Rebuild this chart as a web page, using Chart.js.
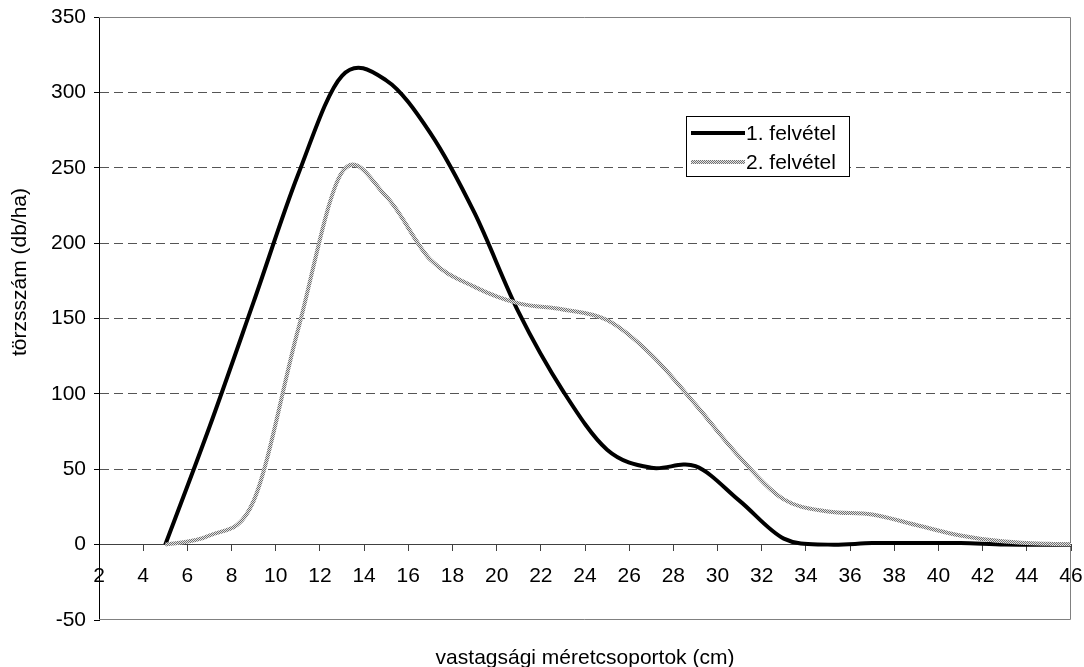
<!DOCTYPE html>
<html lang="hu">
<head>
<meta charset="UTF-8">
<title>Törzsszám-eloszlás</title>
<style>
  html, body { margin: 0; padding: 0; background: #fff; }
</style>
<script src="https://cdn.jsdelivr.net/npm/chart.js"></script>
</head>
<body>
<canvas id="chart" width="1084" height="667"></canvas>
<script>
// diameter class midpoints (cm) and stem counts (db/ha) of the two surveys
const diameters = [5, 7, 9, 11, 13, 15, 17, 19, 21, 23, 25, 27, 29, 31, 33, 35, 37, 39, 41, 43, 45, 47];
const survey1 = [0, 78, 161, 245, 311, 308, 273, 220, 154, 102, 63, 51, 52, 29, 4, 0, 1, 1, 1, 0, 0, 0];
const survey2 = [0, 6, 29, 142, 247, 231, 189, 171, 160, 156, 149, 126, 93, 58, 30, 22, 20, 13, 6, 2, 0.5, 0];
const seriesNames = ['1. felvétel', '2. felvétel'];

const xMin = 2, xMax = 46, xStep = 2;
const yMin = -50, yMax = 350, yStep = 50;

const xTitle = 'vastagsági méretcsoportok (cm)';
const yTitle = 'törzsszám (db/ha)';

const FONT = "'Liberation Sans', Arial, sans-serif";
Chart.defaults.font.family = FONT;
Chart.defaults.font.size = 21;
Chart.defaults.color = '#000';

const ctx = document.getElementById('chart').getContext('2d');

// grey checkered stroke used for the second survey
function checkerPattern() {
  const c = document.createElement('canvas');
  c.width = 2; c.height = 2;
  const g = c.getContext('2d');
  g.fillStyle = '#e4e4e4';
  g.fillRect(0, 0, 2, 2);
  g.fillStyle = '#707070';
  g.fillRect(0, 0, 1, 1);
  g.fillRect(1, 1, 1, 1);
  return ctx.createPattern(c, 'repeat');
}
const greyStroke = checkerPattern();

function toPoints(values) {
  return diameters.map((d, i) => ({ x: d, y: values[i] }));
}

// smooth the lines as a uniform Catmull-Rom spline through the points
const catmullRom = {
  id: 'catmullRom',
  beforeDatasetDraw(chart, args) {
    const meta = args.meta;
    meta.dataset.updateControlPoints(chart.chartArea, meta.iScale.axis);
    const pts = meta.data;
    for (let i = 0; i < pts.length; i++) {
      const prev = pts[Math.max(i - 1, 0)];
      const next = pts[Math.min(i + 1, pts.length - 1)];
      const dx = (next.x - prev.x) / 6;
      const dy = (next.y - prev.y) / 6;
      pts[i].cp1x = pts[i].x - dx;
      pts[i].cp1y = pts[i].y - dy;
      pts[i].cp2x = pts[i].x + dx;
      pts[i].cp2y = pts[i].y + dy;
    }
  }
};

// grey frame on the top, right and bottom of the plot
const frame = {
  id: 'frame',
  beforeDatasetsDraw(chart) {
    const { ctx, chartArea: a } = chart;
    ctx.save();
    ctx.strokeStyle = '#808080';
    ctx.lineWidth = 1;
    ctx.beginPath();
    ctx.moveTo(a.left, a.top + 0.5);
    ctx.lineTo(a.right - 0.5, a.top + 0.5);
    ctx.lineTo(a.right - 0.5, a.bottom - 0.5);
    ctx.lineTo(a.left, a.bottom - 0.5);
    ctx.stroke();
    ctx.restore();
  }
};

// axis titles and the boxed legend inside the plot
const annotations = {
  id: 'annotations',
  afterDraw(chart) {
    const { ctx, chartArea: a } = chart;
    ctx.save();
    ctx.fillStyle = '#000';
    ctx.font = '21px ' + FONT;
    ctx.textAlign = 'center';
    ctx.textBaseline = 'middle';
    ctx.fillText(xTitle, (a.left + a.right) / 2, 658);

    ctx.save();
    ctx.translate(20, 272);
    ctx.rotate(-Math.PI / 2);
    ctx.fillText(yTitle, 0, 0);
    ctx.restore();

    // legend
    const bx = 686.5, by = 116.5, bw = 163, bh = 60;
    ctx.fillStyle = '#fff';
    ctx.fillRect(bx, by, bw, bh);
    ctx.strokeStyle = '#000';
    ctx.lineWidth = 1;
    ctx.strokeRect(bx, by, bw, bh);

    const rows = [133, 162];
    chart.data.datasets.forEach((ds, i) => {
      ctx.beginPath();
      ctx.strokeStyle = ds.borderColor;
      ctx.lineWidth = ds.borderWidth;
      ctx.moveTo(691, rows[i]);
      ctx.lineTo(745, rows[i]);
      ctx.stroke();
      ctx.fillStyle = '#000';
      ctx.textAlign = 'left';
      ctx.fillText(ds.label, 746, rows[i] + 1);
    });
    ctx.restore();
  }
};

new Chart(ctx, {
  type: 'line',
  data: {
    datasets: [
      {
        label: seriesNames[0],
        data: toPoints(survey1),
        borderColor: '#000',
        borderWidth: 4,
        tension: 0.3,
        pointRadius: 0,
        order: 1
      },
      {
        label: seriesNames[1],
        data: toPoints(survey2),
        borderColor: greyStroke,
        borderWidth: 4,
        tension: 0.3,
        pointRadius: 0,
        order: 0
      }
    ]
  },
  options: {
    responsive: false,
    devicePixelRatio: 1,
    animation: false,
    layout: { padding: { top: 17, right: 13, bottom: 47, left: 0 } },
    plugins: {
      legend: { display: false },
      tooltip: { enabled: false }
    },
    scales: {
      x: {
        type: 'linear',
        min: xMin,
        max: xMax,
        position: { y: 0 },
        afterFit(scale) { scale.paddingLeft = 0; scale.paddingRight = 0; },
        ticks: { stepSize: xStep, padding: 13, maxRotation: 0, autoSkip: false },
        grid: { drawOnChartArea: false, drawTicks: true, tickLength: 6, tickColor: '#404040' },
        border: { display: true, color: '#404040', width: 1 }
      },
      y: {
        min: yMin,
        max: yMax,
        afterFit(scale) { scale.width = 99; scale.paddingTop = 0; scale.paddingBottom = 0; },
        ticks: { stepSize: yStep, padding: 8 },
        grid: {
          color: c => (c.tick && c.tick.value > 0 && c.tick.value < yMax) ? '#555' : 'rgba(0,0,0,0)',
          tickColor: '#000',
          tickLength: 5,
          tickBorderDash: []
        },
        border: { display: true, color: '#000', width: 1, dash: [9, 5] }
      }
    }
  },
  plugins: [catmullRom, frame, annotations]
});
</script>
</body>
</html>
